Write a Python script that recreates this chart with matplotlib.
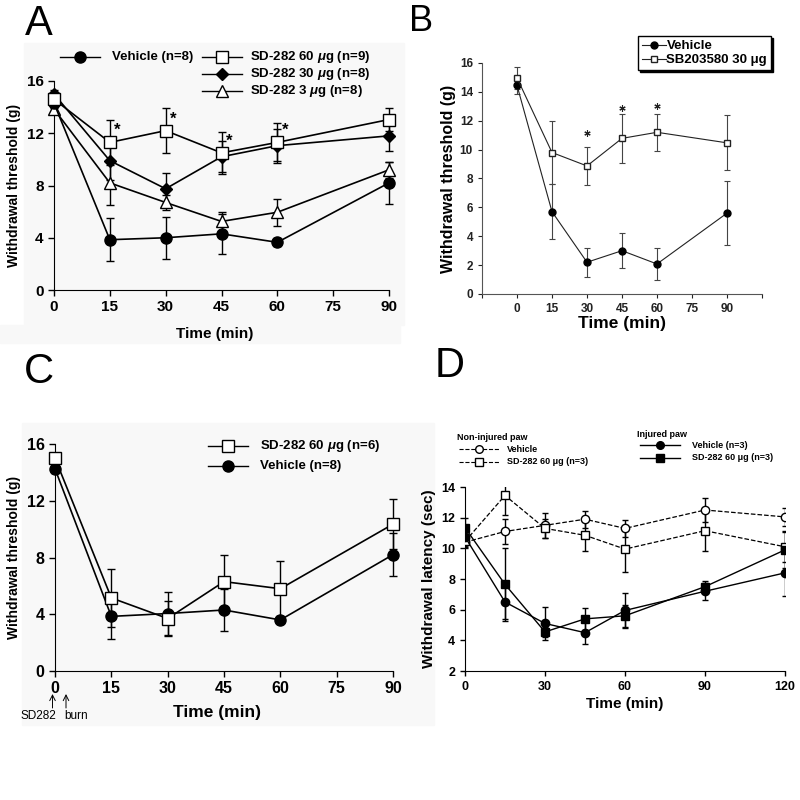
#!/usr/bin/env python3
"""
Four panel figure: withdrawal threshold / latency after SD-282 treatment.
"""
import matplotlib
matplotlib.use("Agg")
import matplotlib.pyplot as plt
from matplotlib.lines import Line2D
from matplotlib.patches import Rectangle

plt.rcParams['font.family'] = ['Liberation Sans', 'DejaVu Sans']
plt.rcParams['mathtext.fontset'] = 'custom'
plt.rcParams['mathtext.it'] = 'Liberation Sans:italic:bold'
plt.rcParams['mathtext.rm'] = 'Liberation Sans:bold'

W = H = 800.0

# ---- panel A ----
time_a = [0, 15, 30, 45, 60, 90]
veh_a = [14.3, 3.85, 4.0, 4.3, 3.65, 8.2]
veh_a_err = [0.4, 1.65, 1.6, 1.55, 0.3, 1.6]
sd60_a = [14.6, 11.3, 12.2, 10.5, 11.3, 13.05]
sd60_a_err = [0.4, 1.7, 1.7, 1.6, 1.45, 0.9]
sd30_a = [15.0, 9.9, 7.75, 10.2, 11.05, 11.8]
sd30_a_err = [0.3, 1.5, 1.2, 1.2, 1.3, 1.15]
sd3_a = [13.85, 8.2, 6.7, 5.25, 5.95, 9.2]
sd3_a_err = [0.3, 1.7, 0.6, 0.7, 1.05, 0.6]
star_a_t = [15, 30, 45, 60]
star_a_y = [12.2, 13.1, 11.35, 12.2]

# ---- panel B ----
time_b = [0, 15, 30, 45, 60, 90]
veh_b = [14.45, 5.7, 2.2, 3.0, 2.08, 5.6]
veh_b_err = [0.6, 1.9, 1.0, 1.2, 1.1, 2.2]
sb_b = [14.97, 9.8, 8.87, 10.78, 11.2, 10.47]
sb_b_err = [0.75, 2.2, 1.3, 1.7, 1.3, 1.9]
star_b_t = [30, 45, 60]
star_b_y = [11.15, 12.85, 13.0]

# ---- panel C ----
time_c = [0, 15, 30, 45, 60, 90]
sd60_c = [15.0, 5.15, 3.7, 6.3, 5.8, 10.35]
sd60_c_err = [0.3, 2.05, 1.2, 1.9, 1.95, 1.75]
veh_c = [14.25, 3.85, 4.05, 4.3, 3.6, 8.2]
veh_c_err = [0.3, 1.6, 1.5, 1.5, 0.2, 1.5]

# ---- panel D ----
time_d = [0, 15, 30, 45, 60, 90, 120]
veh_non = [10.4, 11.1, 11.5, 11.9, 11.3, 12.5, 12.05]
veh_non_err = [0.3, 0.8, 0.8, 0.55, 0.55, 0.8, 0.6]
sd_non = [10.45, 13.45, 11.3, 10.85, 9.95, 11.15, 10.1]
sd_non_err = [0.4, 1.25, 0.6, 1.05, 1.5, 1.3, 1.0]
veh_inj = [10.75, 6.5, 5.1, 4.5, 5.95, 7.2, 8.4]
veh_inj_err = [0.3, 1.1, 1.05, 0.75, 1.15, 0.55, 1.5]
sd_inj = [11.35, 7.65, 4.55, 5.4, 5.6, 7.5, 9.9]
sd_inj_err = [0.6, 2.4, 0.35, 0.7, 0.7, 0.4, 1.15]


def px_axes(fig, left, top, right, bottom):
    # axes from pixel box (top-left origin)
    ax = fig.add_axes([left / W, 1 - bottom / H, (right - left) / W, (bottom - top) / H])
    ax.set_facecolor('none')
    ax.spines['top'].set_visible(False)
    ax.spines['right'].set_visible(False)
    return ax
# end def: px_axes


def legend_row(fig, x0, x1, y, marker, mfc, ms, ls, label, tx, fs, lw=1.0):
    fy = 1 - y / H
    fig.add_artist(Line2D([x0 / W, x1 / W], [fy, fy], color='black', lw=lw, ls=ls))
    fig.add_artist(Line2D([(x0 + x1) / 2 / W], [fy], marker=marker, mfc=mfc,
                          mec='black', ms=ms, ls='none'))
    fig.text(tx / W, fy, label, fontsize=fs, fontweight='bold', va='center', ha='left')
# end def: legend_row


def series(ax, x, y, err, marker, mfc, ms, ls='-', lw=1.2, cap=3, color='black', clip=False):
    ax.errorbar(x, y, yerr=err, color=color, lw=lw, ls=ls, marker=marker, mfc=mfc,
                mec=color, ms=ms, ecolor=color, elinewidth=1, capsize=cap,
                capthick=1, clip_on=clip, zorder=3)
# end def: series


def gray_box(fig, x0, y0, x1, y1):
    fig.patches.append(Rectangle((x0 / W, 1 - y1 / H), (x1 - x0) / W, (y1 - y0) / H,
                                 transform=fig.transFigure, color='#f8f8f8', zorder=-5))
# end def: gray_box


def main():
    fig = plt.figure(figsize=(8, 8), dpi=100)
    fig.patch.set_facecolor('white')

    gray_box(fig, 24, 43, 404, 325)
    gray_box(fig, 0, 325, 400, 343)
    gray_box(fig, 22, 423, 434, 725)

    # panel letters (baseline positions)
    for lab, x, y, fs in [('A', 25, 35, 30), ('B', 409, 31, 26),
                          ('C', 24, 383, 30), ('D', 435, 377, 30)]:
        fig.text(x / W, 1 - y / H, lab, fontsize=fs, va='baseline', ha='left')

    # ---------------- A ----------------
    ax = px_axes(fig, 54, 81, 389, 290)
    series(ax, time_a, sd3_a, sd3_a_err, '^', 'white', 8)
    series(ax, time_a, sd30_a, sd30_a_err, 'D', 'black', 6)
    series(ax, time_a, veh_a, veh_a_err, 'o', 'black', 8)
    series(ax, time_a, sd60_a, sd60_a_err, 's', 'white', 8)
    for t, y in zip(star_a_t, star_a_y):
        ax.text(t + 1.2, y, '*', fontsize=12, fontweight='bold', ha='left', va='center')
    ax.set_xlim(0, 90)
    ax.set_ylim(0, 16)
    ax.set_xticks([0, 15, 30, 45, 60, 75, 90])
    ax.set_yticks([0, 4, 8, 12, 16])
    ax.tick_params(direction='out', length=4, width=1, labelsize=11)
    for t in ax.get_xticklabels() + ax.get_yticklabels():
        t.set_fontweight('bold')
    ax.set_ylabel('Withdrawal threshold (g)', fontsize=10, fontweight='bold', labelpad=4)
    fig.text(215 / W, 1 - 334 / H, 'Time (min)', fontsize=11, fontweight='bold',
             ha='center', va='center')

    legend_row(fig, 60, 100, 57, 'o', 'black', 8, '-', 'Vehicle (n=8)', 112, 9.5)
    legend_row(fig, 202, 242, 57, 's', 'white', 8, '-', 'SD-282 60 $\\mu$g (n=9)', 250, 9.5)
    legend_row(fig, 202, 242, 74, 'D', 'black', 6, '-', 'SD-282 30 $\\mu$g (n=8)', 250, 9.5)
    legend_row(fig, 202, 242, 91, '^', 'white', 8, '-', 'SD-282 3 $\\mu$g (n=8)', 250, 9.5)

    # ---------------- B ----------------
    ax = px_axes(fig, 482, 63, 762, 294)
    ink = '#222222'
    ax.errorbar(time_b, veh_b, yerr=veh_b_err, color=ink, lw=0.8, marker='o', mfc='black',
                mec='black', ms=5, ecolor='#444444', elinewidth=0.8, capsize=2.5,
                capthick=0.8, zorder=3)
    ax.errorbar(time_b, sb_b, yerr=sb_b_err, color=ink, lw=0.8, marker='s', mfc='white',
                mec=ink, ms=5, ecolor='#444444', elinewidth=0.8, capsize=2.5,
                capthick=0.8, zorder=3)
    ax.plot(star_b_t, star_b_y, ls='none', marker=(6, 2, 0), color=ink, ms=4.5, mew=0.8)
    ax.set_xlim(-15, 105)
    ax.set_ylim(0, 16)
    ax.set_xticks(range(-15, 106, 15))
    ax.set_xticklabels(['' if (t < 0 or t > 90) else str(t) for t in range(-15, 106, 15)])
    ax.set_yticks(range(0, 17, 2))
    ax.tick_params(direction='out', length=3, width=0.8, labelsize=8.5, colors='#222222')
    for sp in ['left', 'bottom']:
        ax.spines[sp].set_color('#555555')
    for t in ax.get_xticklabels() + ax.get_yticklabels():
        t.set_fontweight('bold')
    ax.set_ylabel('Withdrawal threshold (g)', fontsize=11.5, fontweight='bold', labelpad=3)
    ax.set_xlabel('Time (min)', fontsize=12.5, fontweight='bold', labelpad=1)
    handles = [Line2D([], [], color=ink, lw=0.8, marker='o', mfc='black', mec='black', ms=5),
               Line2D([], [], color=ink, lw=0.8, marker='s', mfc='white', mec=ink, ms=5)]
    leg = ax.legend(handles, ['Vehicle', 'SB203580 30 μg'], loc='upper right',
                    bbox_to_anchor=(771 / W, 1 - 36 / H),
                    bbox_transform=fig.transFigure, frameon=True,
                    shadow={'color': 'black', 'alpha': 1.0, 'ox': 1.5, 'oy': -1.5},
                    fancybox=False, prop={'weight': 'bold', 'size': 9.5},
                    handlelength=1.8, handletextpad=0.05, borderpad=0.3,
                    labelspacing=0.15, borderaxespad=0)
    leg.get_frame().set_edgecolor('black')
    leg.get_frame().set_linewidth(1.0)

    # ---------------- C ----------------
    ax = px_axes(fig, 55, 444, 393, 671)
    series(ax, time_c, veh_c, veh_c_err, 'o', 'black', 8)
    series(ax, time_c, sd60_c, sd60_c_err, 's', 'white', 8)
    ax.set_xlim(0, 90)
    ax.set_ylim(0, 16)
    ax.set_xticks([0, 15, 30, 45, 60, 75, 90])
    ax.set_yticks([0, 4, 8, 12, 16])
    ax.tick_params(direction='out', length=4, width=1, labelsize=11.5)
    for t in ax.get_xticklabels() + ax.get_yticklabels():
        t.set_fontweight('bold')
    ax.set_ylabel('Withdrawal threshold (g)', fontsize=10, fontweight='bold', labelpad=4)
    fig.text(217 / W, 1 - 713 / H, 'Time (min)', fontsize=12.5, fontweight='bold',
             ha='center', va='center')
    legend_row(fig, 208, 248, 446, 's', 'white', 8, '-', 'SD-282 60 $\\mu$g (n=6)', 260, 9.5)
    legend_row(fig, 208, 248, 466, 'o', 'black', 8, '-', 'Vehicle (n=8)', 260, 9.5)

    # injection markers below the x axis
    for x in [52.5, 66]:
        ax.annotate('', xy=(x / W, 1 - 694 / H), xytext=(x / W, 1 - 708 / H),
                    xycoords='figure fraction', textcoords='figure fraction',
                    arrowprops=dict(arrowstyle='->', lw=0.7, color='black',
                                    shrinkA=0, shrinkB=0))
    fig.text(38 / W, 1 - 716 / H, 'SD282', fontsize=8.5, ha='center', va='center')
    fig.text(76 / W, 1 - 716 / H, 'burn', fontsize=8.5, ha='center', va='center')

    # ---------------- D ----------------
    ax = px_axes(fig, 465, 487, 785, 671)
    series(ax, time_d, veh_non, veh_non_err, 'o', 'white', 6, ls='--', lw=0.9, cap=2.5, clip=True)
    series(ax, time_d, sd_non, sd_non_err, 's', 'white', 6, ls='--', lw=0.9, cap=2.5, clip=True)
    series(ax, time_d, veh_inj, veh_inj_err, 'o', 'black', 6, lw=1.0, cap=2.5, clip=True)
    series(ax, time_d, sd_inj, sd_inj_err, 's', 'black', 6, lw=1.0, cap=2.5, clip=True)
    ax.set_xlim(0, 120)
    ax.set_ylim(2, 14)
    ax.set_xticks([0, 30, 60, 90, 120])
    ax.set_yticks(range(2, 15, 2))
    ax.tick_params(direction='out', length=3.5, width=1, labelsize=9)
    for t in ax.get_xticklabels() + ax.get_yticklabels():
        t.set_fontweight('bold')
    ax.set_ylabel('Withdrawal latency (sec)', fontsize=11, fontweight='bold', labelpad=4)
    ax.set_xlabel('Time (min)', fontsize=11, fontweight='bold', labelpad=3)

    fig.text(457 / W, 1 - 437 / H, 'Non-injured paw', fontsize=6.5, fontweight='bold',
             va='center', ha='left')
    legend_row(fig, 459, 499, 449, 'o', 'white', 5.5, '--', 'Vehicle', 507, 6.5, lw=0.8)
    legend_row(fig, 459, 499, 462, 's', 'white', 5.5, '--', 'SD-282 60 μg (n=3)', 507, 6.5, lw=0.8)
    fig.text(637 / W, 1 - 435 / H, 'Injured paw', fontsize=6.5, fontweight='bold',
             va='center', ha='left')
    legend_row(fig, 640, 680, 445, 'o', 'black', 5.5, '-', 'Vehicle (n=3)', 692, 6.5)
    legend_row(fig, 640, 680, 458, 's', 'black', 5.5, '-', 'SD-282 60 μg (n=3)', 692, 6.5)

    fig.savefig('out.png', dpi=100)
# end def: main


if __name__ == "__main__":
    main()
# end if
